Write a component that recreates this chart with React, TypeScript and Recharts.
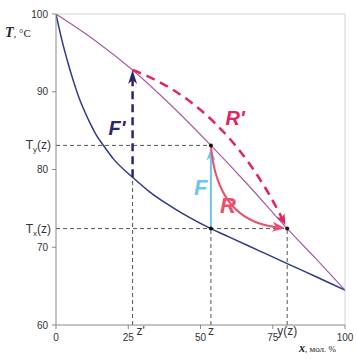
import React from "react";
import { ComposedChart, Line, XAxis, YAxis, ReferenceLine, ReferenceDot } from "recharts";

// liquid (boiling) curve and vapour (dew) curve, T in °C against x in mol. %
const liquidX = [0, 2, 4, 6, 8, 10, 12, 14, 16.4, 20, 26.5, 32.5, 40, 53.6, 60, 70, 80, 90, 100];
const liquidT = [100, 96.7, 93.9, 91.4, 89.2, 87.4, 85.8, 84.4, 83.1, 81.3, 79.0, 77.1, 75.2, 72.4, 71.3, 69.6, 67.9, 66.2, 64.5];
const vaporX = [0, 13.5, 26.5, 40, 53.6, 66, 80, 90, 100];
const vaporT = [100, 96.6, 92.8, 88.2, 83.1, 78.2, 72.4, 68.5, 64.5];

const xTicks = [0, 25, 50, 75, 100];
const yTicks = [60, 70, 80, 90, 100];

// key compositions and temperatures
const zPrime = 26.5;
const z = 53.6;
const yz = 80;
const tLiqZPrime = 79.0;
const tVapZPrime = 92.8;
const tY = 83.1;
const tX = 72.4;

const liquid = liquidX.map((x, i) => ({ x, T: liquidT[i] }));
const vapor = vaporX.map((x, i) => ({ x, T: vaporT[i] }));

const SANS = "'Liberation Sans', Arial, sans-serif";
const SERIF = "'Liberation Serif', 'Times New Roman', serif";

const C_LIQ = "#2E3A8A";
const C_VAP = "#A75CA6";
const C_FP = "#2A2672";
const C_F = "#6EC5F0";
const C_R = "#E9506C";
const C_RP = "#E2255C";
const C_GUIDE = "#555";

// stealth-style arrowhead
function head(tx: number, ty: number, dx: number, dy: number, len: number, w: number, color: string) {
  const L = Math.hypot(dx, dy) || 1;
  const ux = dx / L;
  const uy = dy / L;
  const nx = -uy;
  const ny = ux;
  const bx = tx - ux * len;
  const by = ty - uy * len;
  const mx = tx - ux * len * 0.72;
  const my = ty - uy * len * 0.72;
  return (
    <path
      d={`M${tx},${ty} L${bx + nx * w},${by + ny * w} L${mx},${my} L${bx - nx * w},${by - ny * w} Z`}
      fill={color}
    />
  );
}

const guide = (label?: (p: any) => React.ReactNode) => (p: any) => (
  <g>
    <line x1={p.x1} y1={p.y1} x2={p.x2} y2={p.y2} stroke={C_GUIDE} strokeWidth={1} strokeDasharray="4 3" />
    {label ? label(p) : null}
  </g>
);

const tLabel = (sub: string) => (p: any) => (
  <text x={p.x1 - 5} y={p.y1 + 4} textAnchor="end" fontFamily={SANS} fontSize={12} fill="#333">
    T<tspan fontSize={8} dy={3}>{sub}</tspan>
    <tspan dy={-3}>(z)</tspan>
  </text>
);

const xLabel = (txt: string, dx: number, anchor: string) => (p: any) => (
  <text x={p.x1 + dx} y={p.y1 + 10} textAnchor={anchor} fontFamily={SANS} fontSize={12} fill="#333">
    {txt}
  </text>
);

const straightArrow = (color: string, dash: string | undefined, width: number, label: string, lx: number, ly: number, fs: number, gap: number, hl: number, hw: number) => (p: any) => {
  const dir = p.y2 < p.y1 ? 1 : -1;
  const ty = p.y2 + gap * dir;
  return (
    <g>
      <line x1={p.x1} y1={p.y1} x2={p.x2} y2={ty + hl * 0.7 * dir} stroke={color} strokeWidth={width} strokeDasharray={dash} />
      {head(p.x2, ty, 0, -dir, hl, hw, color)}
      <text x={p.x1 + lx} y={(p.y1 + p.y2) / 2 + ly} fontFamily={SANS} fontSize={fs} fontWeight="bold" fontStyle="italic" fill={color}>
        {label}
      </text>
    </g>
  );
};

// curved arrow: quadratic bezier, control point given along the chord and across it
const curvedArrow = (color: string, dash: string | undefined, width: number, along: number, bend: number, label: string, lx: number, ly: number, fs: number, endGap: number, hl: number, hw: number) => (p: any) => {
  const dx = p.x2 - p.x1;
  const dy = p.y2 - p.y1;
  const cx = p.x1 + along * dx - bend * dy;
  const cy = p.y1 + along * dy + bend * dx;
  const tdx = p.x2 - cx;
  const tdy = p.y2 - cy;
  const tl = Math.hypot(tdx, tdy);
  const tx = p.x2 - (tdx / tl) * endGap;
  const ty = p.y2 - (tdy / tl) * endGap;
  const ex = tx - (tdx / tl) * hl * 0.7;
  const ey = ty - (tdy / tl) * hl * 0.7;
  return (
    <g>
      <path d={`M${p.x1},${p.y1} Q${cx},${cy} ${ex},${ey}`} fill="none" stroke={color} strokeWidth={width} strokeDasharray={dash} />
      {head(tx, ty, tdx, tdy, hl, hw, color)}
      <text x={p.x1 + lx} y={p.y1 + ly} fontFamily={SANS} fontSize={fs} fontWeight="bold" fontStyle="italic" fill={color}>
        {label}
      </text>
    </g>
  );
};

const YTitle = (props: any) => {
  const vb = props.viewBox;
  return (
    <text x={vb.x - 11} y={vb.y + 23} fontFamily={SERIF} fill="#222">
      <tspan fontSize={14} fontWeight="bold" fontStyle="italic">T</tspan>
      <tspan fontSize={11}>, °C</tspan>
    </text>
  );
};

const XTitle = (props: any) => {
  const vb = props.viewBox;
  return (
    <text x={vb.x + vb.width - 46} y={vb.y + 27} fontFamily={SERIF} fill="#222">
      <tspan fontSize={12} fontWeight="bold" fontStyle="italic">x</tspan>
      <tspan fontSize={9}>, мол. %</tspan>
    </text>
  );
};

const tickStyle = { fill: "#333", fontSize: 10, fontFamily: SANS };

export default function App() {
  return (
    <div>
      <style>{"body{margin:0}"}</style>
      <ComposedChart width={357} height={359} margin={{ top: 14, right: 12, left: 16, bottom: 10 }} style={{ overflow: "visible" }}>
        <XAxis
          type="number"
          dataKey="x"
          domain={[0, 100]}
          ticks={xTicks}
          height={24}
          tick={tickStyle}
          tickSize={4}
          tickMargin={5}
          stroke="#888"
          allowDataOverflow
          label={<XTitle />}
        />
        <YAxis
          type="number"
          dataKey="T"
          domain={[60, 100]}
          ticks={yTicks}
          width={40}
          tick={tickStyle}
          tickSize={4}
          tickMargin={4}
          stroke="#888"
          allowDataOverflow
          label={<YTitle />}
        />
        <ReferenceLine y={100} stroke="#d4d4d4" />
        <ReferenceLine x={100} stroke="#d4d4d4" />

        <ReferenceLine segment={[{ x: 0, y: tY }, { x: z, y: tY }]} shape={guide(tLabel("y"))} />
        <ReferenceLine segment={[{ x: 0, y: tX }, { x: yz, y: tX }]} shape={guide(tLabel("x"))} />
        <ReferenceLine segment={[{ x: zPrime, y: 60 }, { x: zPrime, y: tLiqZPrime }]} shape={guide(xLabel("z'", 4, "start"))} />
        <ReferenceLine segment={[{ x: z, y: 60 }, { x: z, y: tX }]} shape={guide(xLabel("z", 0, "middle"))} />
        <ReferenceLine segment={[{ x: yz, y: 60 }, { x: yz, y: tX }]} shape={guide(xLabel("y(z)", 0, "middle"))} />

        <Line data={liquid} dataKey="T" type="monotone" stroke={C_LIQ} strokeWidth={1.5} dot={false} isAnimationActive={false} />
        <Line data={vapor} dataKey="T" type="monotone" stroke={C_VAP} strokeWidth={1.2} dot={false} isAnimationActive={false} />

        <ReferenceLine
          segment={[{ x: zPrime, y: tLiqZPrime }, { x: zPrime, y: tVapZPrime }]}
          shape={straightArrow(C_FP, "8 5", 2.5, "F'", -24, 11, 20, 0, 14, 4.5)}
        />
        <ReferenceLine
          segment={[{ x: z, y: tX }, { x: z, y: tY }]}
          shape={straightArrow(C_F, undefined, 2, "F", -17, 8, 22, 3, 12, 4.5)}
        />
        <ReferenceLine
          segment={[{ x: zPrime, y: tVapZPrime }, { x: yz, y: tX }]}
          shape={curvedArrow(C_RP, "9 6", 2.5, 0.4, -0.19, "R'", 93, 55, 20, 4, 11, 4.5)}
        />
        <ReferenceLine
          segment={[{ x: z, y: tY }, { x: yz, y: tX }]}
          shape={curvedArrow(C_R, undefined, 2, 0.524, 0.408, "R", 9, 68, 22, 2, 13, 5)}
        />

        <ReferenceDot x={z} y={tY} r={2} fill="#111" stroke="none" />
        <ReferenceDot x={z} y={tX} r={2} fill="#111" stroke="none" />
        <ReferenceDot x={yz} y={tX} r={2} fill="#111" stroke="none" />
      </ComposedChart>
    </div>
  );
}
